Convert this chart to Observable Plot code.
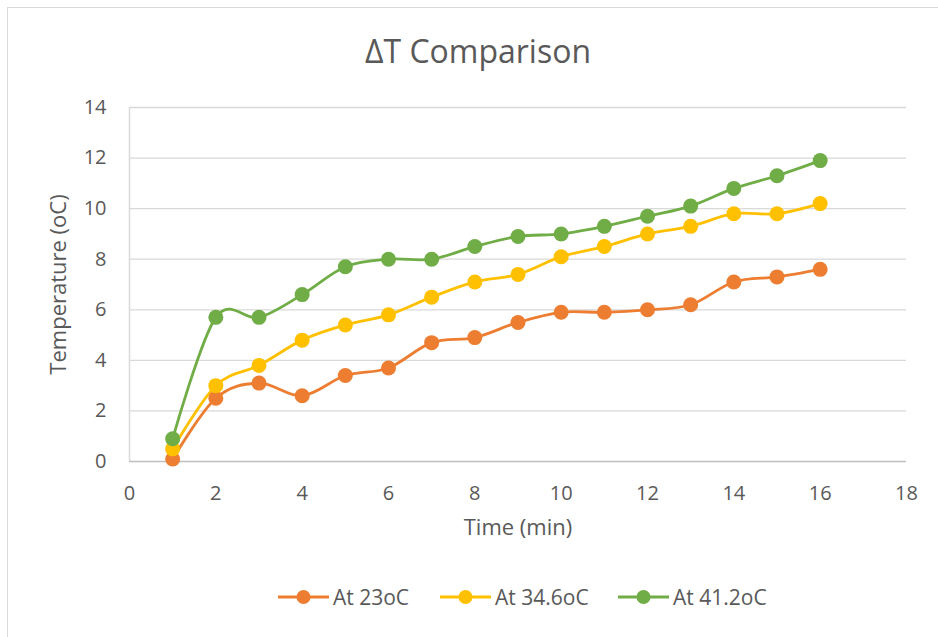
<!DOCTYPE html>
<html>
<head>
<meta charset="utf-8">
<script src="https://cdn.jsdelivr.net/npm/d3@7"></script>
<script src="https://cdn.jsdelivr.net/npm/@observablehq/plot@0.6"></script>
<style>
  html, body { margin: 0; padding: 0; background: #fff; }
  #wrap { position: relative; width: 938px; height: 637px; overflow: hidden; font-family: "Open Sans", sans-serif; color: #595959; }
  #frame { position: absolute; left: 7px; top: 7px; width: 960px; height: 660px; border: 1.5px solid #D9D9D9; box-sizing: border-box; }
  #title { position: absolute; top: 29px; left: 8px; width: 940px; text-align: center; font-size: 32px; color: #595959; }
  #chart { position: absolute; left: 0; top: 90px; }
  #legend { position: absolute; top: 583px; left: 0; width: 938px; height: 30px; font-size: 21px; color: #595959; }
  .item { position: absolute; top: 0; display: flex; align-items: center; }
  .item svg { margin-right: 4px; }
</style>
</head>
<body>
<div id="wrap">
  <div id="frame"></div>
  <div id="title">ΔT Comparison</div>
  <div id="chart"></div>
  <div id="legend"></div>
</div>
<script>
const time = [1, 2, 3, 4, 5, 6, 7, 8, 9, 10, 11, 12, 13, 14, 15, 16];
const seriesNames = ["At 23oC", "At 34.6oC", "At 41.2oC"];
const seriesColors = ["#ED7D31", "#FFC000", "#70AD47"];
const at23 = [0.1, 2.5, 3.1, 2.6, 3.4, 3.7, 4.7, 4.9, 5.5, 5.9, 5.9, 6.0, 6.2, 7.1, 7.3, 7.6];
const at346 = [0.5, 3.0, 3.8, 4.8, 5.4, 5.8, 6.5, 7.1, 7.4, 8.1, 8.5, 9.0, 9.3, 9.8, 9.8, 10.2];
const at412 = [0.9, 5.7, 5.7, 6.6, 7.7, 8.0, 8.0, 8.5, 8.9, 9.0, 9.3, 9.7, 10.1, 10.8, 11.3, 11.9];
const xTicks = [0, 2, 4, 6, 8, 10, 12, 14, 16, 18];
const yTicks = [0, 2, 4, 6, 8, 10, 12, 14];

const seriesValues = [at23, at346, at412];
const data = [];
seriesValues.forEach((vals, i) => {
  vals.forEach((v, j) => data.push({series: seriesNames[i], time: time[j], temp: v}));
});

const plot = Plot.plot({
  width: 938,
  height: 470,
  marginLeft: 129,
  marginRight: 32,
  marginTop: 17,
  marginBottom: 99,
  style: { fontFamily: "'Open Sans', sans-serif", fontSize: "20px", color: "#595959", background: "transparent" },
  x: { domain: [0, 18], ticks: xTicks, label: "Time (min)" },
  y: { domain: [0, 14], ticks: yTicks, label: "Temperature (oC)" },
  color: { domain: seriesNames, range: seriesColors },
  marks: [
    Plot.ruleY(yTicks.filter(d => d > 0), { stroke: "#D9D9D9", strokeWidth: 1.3, strokeOpacity: 1 }),
    Plot.ruleX([0], { stroke: "#D9D9D9", strokeWidth: 1.5, strokeOpacity: 1 }),
    Plot.ruleY([0], { stroke: "#BFBFBF", strokeWidth: 1.5, strokeOpacity: 1 }),
    Plot.axisX({ ticks: xTicks, tickSize: 0, tickPadding: 24, label: "Time (min)", labelAnchor: "center", labelOffset: 73, labelArrow: "none", fontSize: 20, fill: "#595959" }),
    Plot.axisY({ ticks: yTicks, tickSize: 0, tickPadding: 23, label: "Temperature (oC)", labelAnchor: "center", labelOffset: 79, labelArrow: "none", fontSize: 20, fill: "#595959" }),
    Plot.line(data, { x: "time", y: "temp", z: "series", stroke: "series", strokeWidth: 2.8, curve: "cardinal" }),
    Plot.dot(data, { x: "time", y: "temp", fill: "series", r: 7.5, stroke: "none" })
  ]
});
plot.querySelectorAll('[aria-label="x-axis label"] text, [aria-label="y-axis label"] text').forEach(t => t.setAttribute("font-size", "22px"));
document.getElementById("chart").appendChild(plot);

const legendLefts = [278, 440, 618];
const legend = document.getElementById("legend");
seriesNames.forEach((name, i) => {
  const item = document.createElement("div");
  item.className = "item";
  item.style.left = legendLefts[i] + "px";
  item.innerHTML = `<svg width="51" height="28"><line x1="0" y1="14" x2="51" y2="14" stroke="${seriesColors[i]}" stroke-width="2.8"/><circle cx="25.5" cy="14" r="7" fill="${seriesColors[i]}"/></svg><span>${name}</span>`;
  legend.appendChild(item);
});
</script>
</body>
</html>
